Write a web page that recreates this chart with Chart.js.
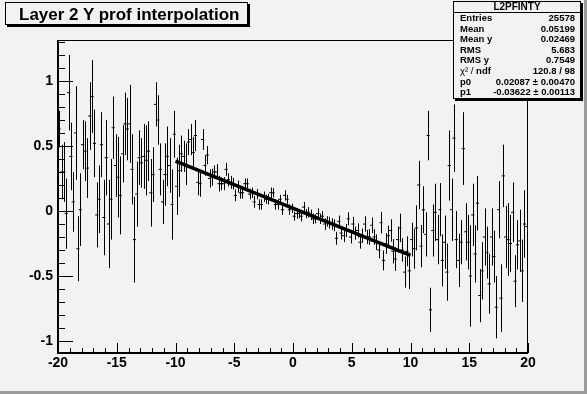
<!DOCTYPE html>
<html>
<head>
<meta charset="utf-8">
<script src="https://cdn.jsdelivr.net/npm/chart.js@4/dist/chart.umd.min.js"></script>
<style>
  body { margin: 0; background: #f2f2f2; }
  #wrap { position: relative; width: 587px; height: 394px; }
  #title {
    position: absolute; left: 5px; top: 2px; width: 243px; height: 23px;
    border: 1px solid #000; box-shadow: 2px 2px 0 #000; background: #f2f2f2;
    font: bold 17px "Liberation Sans", Arial, sans-serif; line-height: 23px;
    padding-left: 13px; box-sizing: border-box; color: #000; white-space: nowrap;
  }
  #stats {
    position: absolute; left: 453px; top: 1px; width: 128px; height: 98px;
    border: 1px solid #000; box-shadow: 2px 2px 0 #000; background: #f2f2f2;
    box-sizing: border-box; font: bold 9.5px "Liberation Sans", Arial, sans-serif; color: #000;
  }
  #stats .hd { text-align: center; font-size: 10px; height: 10px; line-height: 10px; border-bottom: 1px solid #000; }
  #stats .row { display: flex; justify-content: space-between; padding: 0 5px 0 6px; height: 10.6px; line-height: 10.6px; }
  #stats .chi { font-weight: normal; }
</style>
</head>
<body>
<div id="wrap">
  <canvas id="prof" width="587" height="394"></canvas>
  <div id="title">Layer 2 Y prof interpolation</div>
  <div id="stats">
    <div class="hd">L2PFINTY</div>
    <div class="row"><span>Entries</span><span>25578</span></div>
    <div class="row"><span>Mean</span><span>0.05199</span></div>
    <div class="row"><span>Mean y</span><span>0.02469</span></div>
    <div class="row"><span>RMS</span><span>5.683</span></div>
    <div class="row"><span>RMS y</span><span>0.7549</span></div>
    <div class="row"><span><span class="chi">χ² / </span>ndf</span><span>120.8 / 98</span></div>
    <div class="row"><span>p0</span><span>0.02087 ± 0.00470</span></div>
    <div class="row"><span>p1</span><span>-0.03622 ± 0.00113</span></div>
  </div>
</div>
<script>
// profile: 200 bins from -20 to 20
const binLow = -20;
const binWidth = 0.2;

const means = [
  0.63, 0.30, 0.30, -0.02, 0.91, 0.42, 0.07, 0.60, -0.29, 0.01,
  0.51, 0.46, 0.33, 0.73, 0.88, 0.52, -0.03, 0.09, 0.51, -0.05,
  0.41, -0.10, 0.09, 0.64, 0.35, 0.26, 0.12, 0.44, 0.67, 0.63,
  0.67, 0.32, -0.22, 0.13, 0.41, 0.37, 0.42, 0.39, 0.46, 0.14,
  0.28, 0.82, 0.70, 0.32, 0.07, 0.28, 0.42, 0.35, 0.05, 0.59,
  0.19, 0.31, 0.44, 0.42, 0.36, 0.53, 0.55, 0.45, 0.58, 0.22,
  0.21, 0.55, 0.35, 0.43, 0.25, 0.26, 0.30, 0.30, 0.21, 0.21,
  0.21, 0.32, 0.24, 0.22, 0.21, 0.12, 0.19, 0.14, 0.14, 0.21,
  0.21, 0.13, 0.14, 0.07, 0.13, 0.05, 0.05, 0.11, 0.09, 0.09,
  0.14, 0.14, 0.05, 0.05, 0.09, 0.01, 0.12, 0.09, 0.01, 0.02,
  -0.04, -0.02, -0.02, -0.04, 0.03, -0.02, -0.01, -0.03, -0.06, -0.06,
  -0.02, -0.06, -0.04, -0.10, -0.08, -0.09, -0.10, -0.11, -0.21, -0.08,
  -0.17, -0.19, -0.15, -0.06, -0.20, -0.10, -0.17, -0.15, -0.24, -0.19,
  -0.10, -0.20, -0.20, -0.11, -0.20, -0.24, -0.30, -0.09, -0.38, -0.25,
  -0.19, -0.15, -0.31, -0.37, -0.22, -0.13, -0.30, -0.47, -0.31, -0.46,
  -0.22, -0.29, -0.13, 0.20, -0.27, 0.01, -0.18, 0.58, -0.76, -0.15,
  -0.01, -0.22, 0.01, -0.38, -0.24, -0.47, 0.35, 0.01, 0.56, -0.22,
  -0.38, -0.24, 0.48, -0.16, -0.24, -0.50, -0.03, -0.33, 0.06, -0.65,
  -0.46, -0.20, -0.32, -0.56, -0.20, -0.35, -0.74, 0.01, -0.67, 0.27,
  -0.20, -0.22, -0.25, -0.01, -0.54, -0.26, -0.23, -0.46, -0.10, -0.12
];

const errors = [
  0.14, 0.21, 0.23, 0.27, 0.29, 0.26, 0.23, 0.36, 0.25, 0.28,
  0.19, 0.23, 0.23, 0.26, 0.28, 0.26, 0.25, 0.26, 0.25, 0.29,
  0.29, 0.34, 0.31, 0.24, 0.24, 0.31, 0.30, 0.22, 0.24, 0.24,
  0.30, 0.27, 0.33, 0.25, 0.21, 0.19, 0.25, 0.27, 0.23, 0.26,
  0.21, 0.17, 0.19, 0.20, 0.17, 0.24, 0.23, 0.21, 0.27, 0.18,
  0.22, 0.20, 0.14, 0.12, 0.16, 0.10, 0.12, 0.12, 0.12, 0.10,
  0.10, 0.08, 0.08, 0.07, 0.07, 0.065, 0.05, 0.06, 0.06, 0.05,
  0.05, 0.05, 0.05, 0.05, 0.045, 0.045, 0.045, 0.045, 0.045, 0.04,
  0.04, 0.04, 0.04, 0.045, 0.04, 0.04, 0.04, 0.04, 0.035, 0.04,
  0.04, 0.035, 0.04, 0.04, 0.035, 0.04, 0.04, 0.035, 0.04, 0.035,
  0.035, 0.04, 0.035, 0.04, 0.04, 0.035, 0.04, 0.04, 0.04, 0.035,
  0.04, 0.04, 0.04, 0.045, 0.04, 0.045, 0.045, 0.045, 0.05, 0.045,
  0.05, 0.05, 0.05, 0.05, 0.05, 0.055, 0.05, 0.055, 0.05, 0.055,
  0.06, 0.055, 0.06, 0.06, 0.06, 0.06, 0.064, 0.083, 0.077, 0.08,
  0.077, 0.086, 0.094, 0.09, 0.10, 0.11, 0.09, 0.12, 0.115, 0.14,
  0.13, 0.154, 0.173, 0.186, 0.163, 0.18, 0.17, 0.19, 0.17, 0.20,
  0.22, 0.19, 0.205, 0.20, 0.205, 0.22, 0.27, 0.24, 0.26, 0.22,
  0.205, 0.17, 0.28, 0.22, 0.21, 0.39, 0.24, 0.22, 0.21, 0.205,
  0.22, 0.22, 0.20, 0.23, 0.22, 0.20, 0.24, 0.22, 0.26, 0.24,
  0.24, 0.28, 0.22, 0.23, 0.20, 0.19, 0.24, 0.24, 0.26, 0.26
];

// pol1 fit drawn between -10 and 10
const fitX = [-10, 10];
const fitY = [0.383, -0.341];

const xTicks = [-20, -15, -10, -5, 0, 5, 10, 15, 20];
const yTicks = [-1, -0.5, 0, 0.5, 1];

const bg = '#f2f2f2';
const labelFont = { family: '"Liberation Sans", Arial, sans-serif', size: 14, weight: 'bold' };

const profPoints = means.map((m, i) => ({ x: binLow + (i + 0.5) * binWidth, y: m }));
const fitPoints = fitX.map((x, i) => ({ x: x, y: fitY[i] }));

// canvas background + grey bevel on the right/bottom
const canvasBg = {
  id: 'canvasBg',
  beforeDraw(chart) {
    const ctx = chart.ctx;
    ctx.save();
    ctx.fillStyle = bg;
    ctx.fillRect(0, 0, chart.width, chart.height);
    ctx.fillStyle = '#9a9a9a';
    ctx.fillRect(chart.width - 3, 0, 3, chart.height);
    ctx.fillRect(0, chart.height - 3, chart.width, 3);
    ctx.restore();
  }
};

// vertical error bars of the profile
const errorBars = {
  id: 'errorBars',
  beforeDatasetsDraw(chart) {
    const { ctx, chartArea, scales: { x, y } } = chart;
    ctx.save();
    ctx.beginPath();
    ctx.rect(chartArea.left, chartArea.top, chartArea.right - chartArea.left, chartArea.bottom - chartArea.top);
    ctx.clip();
    ctx.strokeStyle = '#000';
    ctx.lineWidth = 1;
    ctx.beginPath();
    means.forEach((m, i) => {
      const px = Math.round(x.getPixelForValue(binLow + (i + 0.5) * binWidth)) + 0.5;
      ctx.moveTo(px, y.getPixelForValue(m + errors[i]));
      ctx.lineTo(px, y.getPixelForValue(m - errors[i]));
    });
    ctx.stroke();
    ctx.restore();
  }
};

// ROOT style frame with inward tick marks
const frameTicks = {
  id: 'frameTicks',
  afterDatasetsDraw(chart) {
    const { ctx, chartArea: a, scales: { x, y } } = chart;
    ctx.save();
    ctx.strokeStyle = '#000';
    ctx.fillStyle = '#000';
    ctx.lineWidth = 1;
    ctx.beginPath();
    ctx.moveTo(a.left, a.top + 0.5);
    ctx.lineTo(a.right, a.top + 0.5);
    ctx.moveTo(a.right - 0.5, a.top);
    ctx.lineTo(a.right - 0.5, a.bottom);
    for (let k = -10; k <= 13; k++) {
      const py = Math.round(y.getPixelForValue(k / 10)) + 0.5;
      const len = k % 5 === 0 ? 15 : 7;
      ctx.moveTo(a.left, py);
      ctx.lineTo(a.left + len, py);
    }
    for (let k = -20; k <= 20; k++) {
      const px = Math.round(x.getPixelForValue(k)) + 0.5;
      const len = k % 5 === 0 ? 10 : 5;
      ctx.moveTo(px, a.bottom);
      ctx.lineTo(px, a.bottom - len);
    }
    ctx.stroke();
    ctx.fillRect(a.left - 1, a.top, 2, a.bottom - a.top + 1);
    ctx.fillRect(a.left - 1, a.bottom - 1, a.right - a.left + 1, 2);
    ctx.restore();
  }
};

new Chart(document.getElementById('prof').getContext('2d'), {
  type: 'scatter',
  data: {
    datasets: [
      {
        label: 'fit',
        data: fitPoints,
        showLine: true,
        borderColor: '#000',
        borderWidth: 3.5,
        pointRadius: 0,
        order: 0
      },
      {
        label: 'L2PFINTY',
        data: profPoints,
        pointStyle: 'line',
        pointRadius: 1.6,
        pointBorderWidth: 1,
        pointBorderColor: '#000',
        pointBackgroundColor: '#000',
        order: 1
      }
    ]
  },
  options: {
    responsive: false,
    animation: false,
    devicePixelRatio: 1,
    layout: { padding: { left: 0, top: 40, right: 59, bottom: 0 } },
    plugins: { legend: { display: false }, tooltip: { enabled: false } },
    scales: {
      x: {
        type: 'linear',
        min: -20,
        max: 20,
        grid: { display: false, drawTicks: false },
        border: { display: false },
        afterBuildTicks: (s) => { s.ticks = xTicks.map(v => ({ value: v })); },
        afterFit: (s) => { s.height = 41; },
        ticks: { color: '#000', font: labelFont, padding: 2, maxRotation: 0, autoSkip: false,
                 callback: (v) => String(v) }
      },
      y: {
        type: 'linear',
        min: -1.092,
        max: 1.315,
        grid: { display: false, drawTicks: false },
        border: { display: false },
        afterBuildTicks: (s) => { s.ticks = yTicks.map(v => ({ value: v })); },
        afterFit: (s) => { s.width = 58; },
        ticks: { color: '#000', font: labelFont, padding: 5, autoSkip: false,
                 callback: (v) => String(v) }
      }
    }
  },
  plugins: [canvasBg, errorBars, frameTicks]
});
</script>
</body>
</html>
